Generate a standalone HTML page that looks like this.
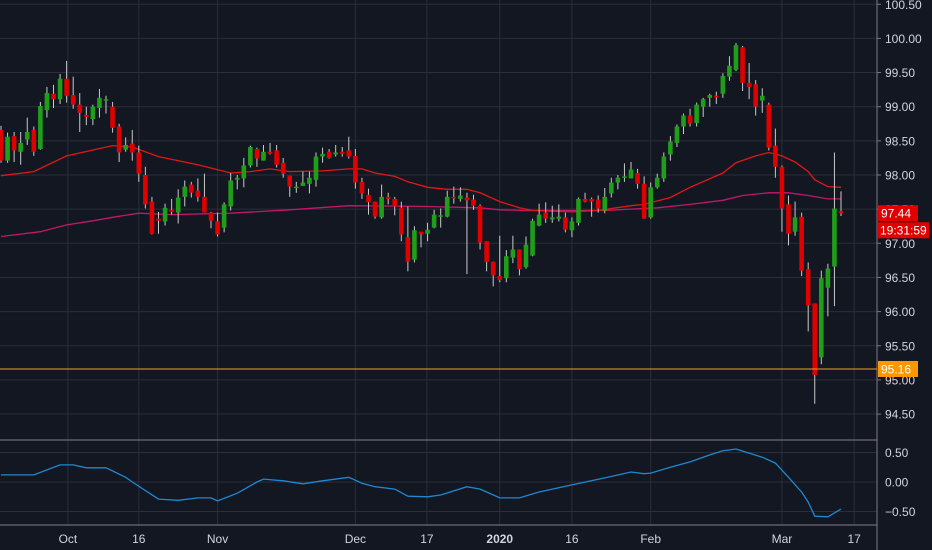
<!DOCTYPE html>
<html><head><meta charset="utf-8">
<style>
html,body{margin:0;padding:0;background:#131722;}
svg{display:block;font-family:"Liberation Sans",sans-serif;}
</style></head>
<body>
<svg id="chart" width="932" height="550" viewBox="0 0 932 550" xmlns="http://www.w3.org/2000/svg">
<rect x="0" y="0" width="932" height="550" fill="#131722"/>
<g id="grid"></g>
<g id="mas"></g>
<g id="candles"></g>
<g id="ind"></g>
<g id="axes"></g>
</svg>
<script>
const opens=[98.66,98.21,98.57,98.34,98.52,98.66,98.38,98.95,99.19,99.11,99.41,99.17,99.03,98.88,98.82,98.98,99.10,99.00,98.71,98.37,98.46,98.33,98.00,97.61,97.36,97.32,97.49,97.45,97.68,97.86,97.77,97.68,97.45,97.32,97.23,97.54,97.93,97.95,98.14,98.38,98.21,98.34,98.36,98.18,97.99,97.81,97.84,97.87,97.93,98.27,98.34,98.30,98.34,98.36,98.28,97.90,97.71,97.61,97.38,97.68,97.65,97.52,97.09,96.76,97.17,97.14,97.23,97.39,97.39,97.68,97.65,97.67,97.64,97.55,97.03,96.73,96.52,96.49,96.79,96.91,96.65,96.82,97.26,97.45,97.35,97.36,97.38,97.19,97.30,97.65,97.65,97.64,97.48,97.73,97.89,97.96,97.95,98.03,97.87,97.38,97.82,97.95,98.30,98.47,98.71,98.87,98.76,99.00,99.13,99.16,99.19,99.44,99.54,99.87,99.35,99.33,99.09,99.03,98.43,98.12,97.57,97.17,97.39,96.62,96.12,95.33,96.35,96.66,97.47];
const highs=[98.72,98.62,98.63,98.63,98.84,98.71,99.07,99.29,99.32,99.48,99.67,99.44,99.20,99.00,99.03,99.26,99.16,99.07,98.75,98.55,98.66,98.43,98.12,97.68,97.46,97.58,97.65,97.79,97.92,97.90,97.95,98.02,97.46,97.45,97.60,98.03,98.00,98.25,98.43,98.40,98.44,98.47,98.44,98.25,97.99,97.90,98.05,98.05,98.33,98.40,98.38,98.44,98.41,98.56,98.38,97.96,97.80,97.61,97.86,97.74,97.68,97.61,97.54,97.25,97.17,97.30,97.49,97.51,97.77,97.83,97.82,97.74,97.71,97.57,97.03,96.73,97.11,96.90,97.11,96.91,97.10,97.36,97.58,97.60,97.55,97.57,97.45,97.38,97.67,97.74,97.67,97.70,97.81,97.96,98.00,98.17,98.19,98.09,97.98,97.89,98.02,98.33,98.57,98.74,98.90,98.97,99.06,99.13,99.19,99.22,99.49,99.74,99.93,99.89,99.64,99.39,99.27,99.06,98.68,98.14,97.70,97.61,97.45,96.72,96.12,96.60,96.70,98.33,97.76];
const lows=[98.18,98.18,98.19,98.15,98.44,98.28,98.37,98.84,98.98,99.04,99.06,98.97,98.63,98.73,98.73,98.84,98.90,98.62,98.19,98.34,98.21,97.90,97.51,97.13,97.14,97.26,97.42,97.29,97.54,97.67,97.61,97.45,97.22,97.10,97.16,97.48,97.79,97.82,98.11,98.12,98.21,98.30,98.11,97.96,97.68,97.74,97.84,97.73,97.83,98.18,98.24,98.27,98.27,98.24,97.80,97.65,97.42,97.36,97.36,97.57,97.41,97.03,96.59,96.72,96.94,97.03,97.22,97.23,97.38,97.58,97.61,96.55,97.49,96.91,96.59,96.37,96.43,96.43,96.71,96.53,96.63,96.81,97.25,97.30,97.30,97.32,97.16,97.09,97.26,97.60,97.39,97.45,97.44,97.67,97.79,97.90,97.95,97.80,97.36,97.36,97.80,97.90,98.21,98.41,98.60,98.71,98.71,98.85,99.00,99.04,99.13,99.38,99.52,99.23,99.11,98.87,98.91,98.36,97.96,97.17,96.97,97.11,96.52,95.71,94.65,95.23,95.93,96.08,97.40];
const closes=[98.21,98.56,98.36,98.47,98.63,98.34,99.01,99.20,99.11,99.41,99.16,99.03,98.91,98.85,99.00,99.13,99.11,98.69,98.33,98.44,98.33,98.02,97.57,97.14,97.33,97.52,97.46,97.67,97.83,97.74,97.68,97.45,97.33,97.13,97.57,97.92,97.96,98.14,98.41,98.24,98.34,98.31,98.15,98.02,97.83,97.83,97.89,97.96,98.27,98.31,98.25,98.33,98.31,98.27,97.89,97.73,97.60,97.39,97.68,97.65,97.54,97.13,96.73,97.19,97.13,97.20,97.42,97.41,97.68,97.67,97.70,97.63,97.55,97.01,96.73,96.53,96.46,96.81,96.91,96.62,96.98,97.33,97.42,97.36,97.38,97.39,97.20,97.32,97.65,97.61,97.61,97.51,97.68,97.89,97.96,97.98,98.08,97.87,97.36,97.82,97.96,98.27,98.49,98.71,98.87,98.75,99.03,99.11,99.17,99.14,99.45,99.60,99.90,99.35,99.29,99.00,99.16,98.40,98.12,97.51,97.14,97.38,96.60,96.09,95.07,96.49,96.63,97.51,97.44];
const ma1Idx=[0,5,10,17,20,24,30,35,38,41,44,49,53,55,57,60,62,65,68,71,73,76,79,81,87,91,93,96,98,102,105,110,112,115,117,119,121,123,124,126,128];
const ma1Val=[97.99,98.05,98.28,98.43,98.41,98.27,98.15,98.03,98.05,98.09,98.05,98.06,98.09,98.09,98.03,97.98,97.90,97.82,97.79,97.79,97.74,97.61,97.52,97.48,97.46,97.48,97.51,97.55,97.57,97.67,97.82,98.03,98.18,98.28,98.33,98.28,98.19,98.05,97.93,97.83,97.82];
const ma2Idx=[0,6,10,14,17,21,26,35,44,53,64,73,76,80,87,92,100,105,110,113,117,120,123,126,128];
const ma2Val=[97.10,97.17,97.27,97.33,97.38,97.44,97.42,97.44,97.49,97.55,97.54,97.52,97.49,97.48,97.48,97.48,97.52,97.57,97.63,97.70,97.74,97.74,97.70,97.65,97.65];
const indIdx=[0,5,9,11,13,16,19,20,24,27,30,32,33,36,39,40,43,46,49,53,55,57,60,62,65,67,69,71,73,76,79,82,87,92,96,98,99,102,105,108,110,112,114,116,118,120,122,123,124,126,128];
const indVal=[0.12,0.12,0.29,0.29,0.24,0.24,0.08,0.0,-0.29,-0.31,-0.27,-0.27,-0.32,-0.19,0.0,0.05,0.02,-0.03,0.02,0.08,-0.02,-0.08,-0.12,-0.24,-0.25,-0.22,-0.15,-0.08,-0.12,-0.27,-0.27,-0.17,-0.05,0.07,0.17,0.14,0.15,0.25,0.34,0.46,0.53,0.56,0.49,0.42,0.32,0.08,-0.17,-0.34,-0.58,-0.59,-0.46];
const priceTicks=[100.5,100,99.5,99,98.5,98,97.5,97,96.5,96,95.5,95,94.5];
const indTicks=[0.5,0,-0.5];
const xLabels=["Oct","16","Nov","Dec","17","2020","16","Feb","Mar","17"];
const xLabelIdx=[10.2,21,33,54,64.9,76,87,99,119,130];
const hLine=95.16;
const lastPrice=97.44;
const timer="19:31:59";

const NS="http://www.w3.org/2000/svg";
const AXIS_X=877;
function xs(i){return 1+i*6.5625;}
function ys(p){return 175+(98-p)*68.3;}
function yi(v){return 482-v*59;}
function mk(tag,attrs,parent){const e=document.createElementNS(NS,tag);for(const k in attrs)e.setAttribute(k,attrs[k]);parent.appendChild(e);return e;}
const grid=document.getElementById('grid'),candles=document.getElementById('candles'),mas=document.getElementById('mas'),ind=document.getElementById('ind'),axes=document.getElementById('axes');

priceTicks.forEach(function(t){
  const l=mk('line',{x1:0,x2:AXIS_X,y1:ys(t),y2:ys(t),stroke:'#2a2e39','stroke-width':1},grid);
  
  
  const tk=mk('line',{x1:AXIS_X,x2:AXIS_X+4,y1:ys(t),y2:ys(t),stroke:'#787b86'},axes);
  
  
  const tx=mk('text',{x:885,y:ys(t)+4.5,fill:'#d1d4dc','font-size':12},axes);
  tx.textContent=t.toFixed(2);
  
  
});
indTicks.forEach(function(t){
  const l=mk('line',{x1:0,x2:AXIS_X,y1:yi(t),y2:yi(t),stroke:'#2a2e39'},grid);
  
  
  const tx=mk('text',{x:885,y:yi(t)+4.5,fill:'#d1d4dc','font-size':12},axes);
  tx.textContent=(t<0?'\u2212':'')+Math.abs(t).toFixed(2);
  
  
});
xLabels.forEach(function(lb,k){
  const x=xs(xLabelIdx[k]);
  const l=mk('line',{x1:x,x2:x,y1:0,y2:525,stroke:'#2a2e39'},grid);
  
  
  const tx=mk('text',{x:x,y:543,fill:'#d1d4dc','font-size':12,'text-anchor':'middle','font-weight':lb==='2020'?'bold':'normal'},axes);
  tx.textContent=lb;
  
  
});
// separators
[[0,440,AXIS_X,440],[0,525,AXIS_X,525],[AXIS_X,0,AXIS_X,550]].forEach(function(s){
  const l=mk('line',{x1:s[0],y1:s[1],x2:s[2],y2:s[3],stroke:'#6a6d78','stroke-width':1.2},axes);
  
  
});

function poly(idx,val,fy,color,name,parent){
  const pts=idx.map(function(i,k){return xs(i).toFixed(1)+','+fy(val[k]).toFixed(1);}).join(' ');
  const p=mk('polyline',{points:pts,fill:'none',stroke:color,'stroke-width':1.3},parent);
  
  
}
poly(ma2Idx,ma2Val,ys,'#c2186b','ma-slow-line',mas);
poly(ma1Idx,ma1Val,ys,'#e01818','ma-fast-line',mas);

for(let i=0;i<opens.length;i++){
  const x=xs(i),o=opens[i],c=closes[i],up=c>=o;
  const w=mk('line',{x1:x,x2:x,y1:ys(highs[i]),y2:ys(lows[i]),stroke:'#c9c9c9','stroke-width':1},candles);
  
  
  const top=ys(Math.max(o,c)),bot=ys(Math.min(o,c));
  const b=mk('rect',{x:x-2.3,y:top,width:4.6,height:Math.max(1.5,bot-top),fill:up?'#1f9e1a':'#e00000'},candles);
  
  
}
poly(indIdx,indVal,yi,'#1e88d0','indicator-line',ind);

// horizontal orange line
const hl=mk('line',{x1:0,x2:AXIS_X,y1:ys(hLine),y2:ys(hLine),stroke:'#f2a11c','stroke-width':1},axes);


const hb=mk('rect',{x:AXIS_X+1,y:ys(hLine)-8,width:40,height:16,fill:'#ff9800'},axes);


const ht=mk('text',{x:881,y:ys(hLine)+4.5,fill:'#ffffff','font-size':12},axes);
ht.textContent=hLine.toFixed(2);


// last price badge
const lb=mk('rect',{x:AXIS_X+1,y:ys(lastPrice)-8,width:40,height:16,fill:'#e00000'},axes);


const lt=mk('text',{x:881,y:ys(lastPrice)+4.5,fill:'#ffffff','font-size':12},axes);
lt.textContent=lastPrice.toFixed(2);


const tb=mk('rect',{x:AXIS_X+1,y:ys(lastPrice)+9,width:51,height:16,fill:'#e00000'},axes);


const tt=mk('text',{x:880,y:ys(lastPrice)+21.5,fill:'#ffffff','font-size':12},axes);
tt.textContent=timer;


</script>
</body></html>
